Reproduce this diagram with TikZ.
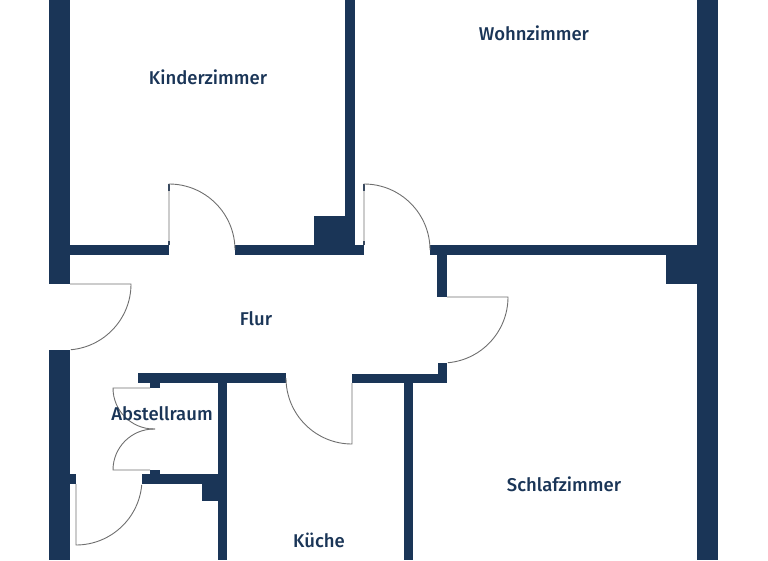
\documentclass[tikz,border=0pt]{standalone}
\usepackage{fontspec}
\setmainfont{Fira Sans Medium}
\definecolor{wallc}{HTML}{1A3557}
\definecolor{doorc}{HTML}{6F6F6F}
\tikzset{
  wall/.style={fill=wallc,draw=none},
  doorline/.style={draw=doorc,line width=0.9pt,line join=round},
  roomlabel/.style={text=wallc,font=\fontsize{18.5}{20}\selectfont,inner sep=0pt,anchor=center}
}
\newcommand{\wallbox}[4]{\fill[wall] (#1,#2) rectangle (#3,#4);}
\begin{document}
\begin{tikzpicture}[x=1pt,y=-1pt]
\useasboundingbox (0,0) rectangle (768,560);
% outer walls
\wallbox{48.5}{0}{70}{284}
\wallbox{48.5}{350}{70}{560}
\wallbox{697}{0}{718}{560}
% upper horizontal wall
\wallbox{70}{245}{169}{255}
\wallbox{235}{245}{364}{255}
\wallbox{430}{245}{697}{255}
\wallbox{345}{0}{355}{216}
\wallbox{314}{216}{355}{255}
\wallbox{666}{255}{697}{284}
\wallbox{437}{255}{447}{297}
% lower corridor wall
\wallbox{138}{373}{286}{383}
\wallbox{352}{374}{447}{383}
\wallbox{437.5}{363}{447}{383}
\wallbox{150}{383}{160}{388}
\wallbox{218}{383}{227}{560}
\wallbox{404}{383}{413}{560}
% storage / lower walls
\wallbox{142}{474}{218}{484}
\wallbox{150}{470}{160}{474}
\wallbox{202}{484}{218}{501}
\wallbox{70}{474}{76}{484}
% jamb ticks
\wallbox{168.2}{184}{169.8}{191}
\wallbox{363.2}{184}{364.8}{191}
\wallbox{168.2}{241}{169.8}{245}
\wallbox{363.2}{241}{364.8}{245}
% doors (angles are in the flipped y system)
\draw[doorline] (169,245) -- (169,184) arc[start angle=-90,end angle=0,radius=66];
\draw[doorline] (364,245) -- (364,184) arc[start angle=-90,end angle=0,radius=66];
\draw[doorline] (70,284) -- (131,284) arc[start angle=0,end angle=85,radius=66];
\draw[doorline] (447,297) -- (508,297) arc[start angle=0,end angle=85,radius=66];
\draw[doorline] (352,383) -- (352,444) arc[start angle=90,end angle=180,radius=66];
\draw[doorline] (76,484) -- (76,545) arc[start angle=90,end angle=5,radius=66];
\draw[doorline] (150,388) -- (113,388) arc[start angle=180,end angle=90,radius=41] -- (155,429);
\draw[doorline] (150,470) -- (113,470) arc[start angle=180,end angle=270,radius=41] -- (155,429);
% labels
\node[roomlabel] (kinder) at (208,77.2) {Kinderzimmer};
\node[roomlabel] (wohn) at (534,33.2) {Wohnzimmer};
\node[roomlabel] (flur) at (256,318.4) {Flur};
\node[roomlabel] (abst) at (162,413.4) {Abstellraum};
\node[roomlabel] (schlaf) at (564,484) {Schlafzimmer};
\node[roomlabel] (kueche) at (319,540.2) {Küche};
\end{tikzpicture}
\end{document}
